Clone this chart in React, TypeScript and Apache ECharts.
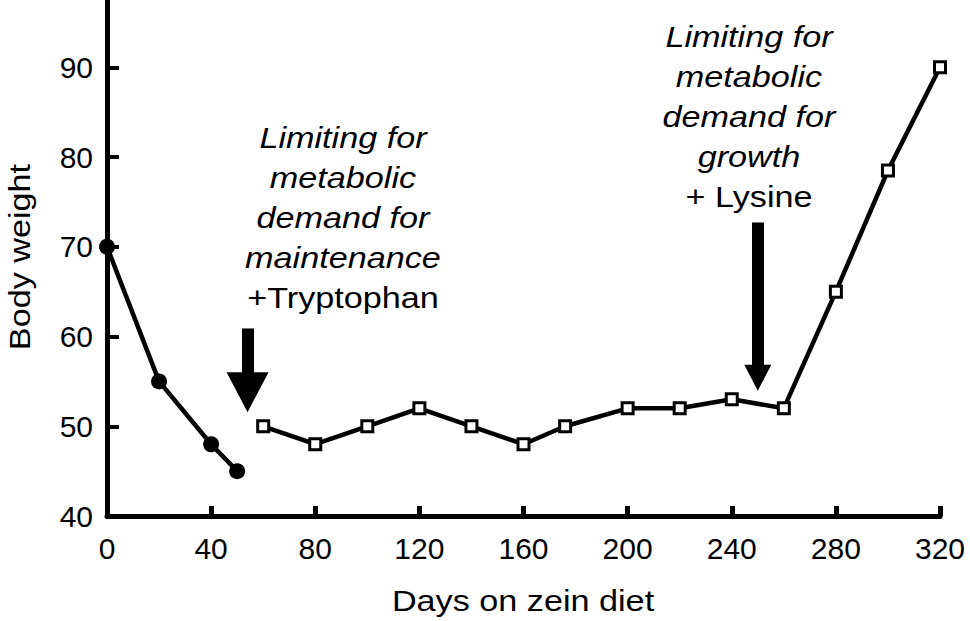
import React, { useEffect, useRef } from "react";
import * as echarts from "echarts";

// days on zein diet / body weight
const phase1Days = [0, 20, 40, 50];
const phase1Weight = [70, 55, 48, 45];
const phase2Days = [60, 80, 100, 120, 140, 160, 176, 200, 220, 240, 260, 280, 300, 320];
const phase2Weight = [50, 48, 50, 52, 50, 48, 50, 52, 52, 53, 52, 65, 78.5, 90];
const yTicks = [40, 50, 60, 70, 80, 90];

// arrows: day, shaft top weight, head centre weight
const arrowDays = [54, 250];
const arrowTop = [60.9, 72.7];
const arrowHead = [53.8, 55.4];

const noteLeft = ["Limiting for", "metabolic", "demand for", "maintenance", "+Tryptophan"];
const noteRight = ["Limiting for", "metabolic", "demand for", "growth", "+ Lysine"];

const FONT = "'Liberation Sans', Arial, Helvetica, sans-serif";
const STRETCH = 1.14;

const App: React.FC = () => {
    const chartRef = useRef<HTMLDivElement>(null);

    useEffect(() => {
        document.body.style.margin = "0";
        if (!chartRef.current) return;
        const chart = echarts.init(chartRef.current, undefined, { renderer: "svg" });

        // one text element per line, last line upright
        const note = (lines: string[], cx: number, firstY: number) =>
            lines.map((t, i) => ({
                type: "text",
                x: cx,
                y: firstY + i * 40,
                scaleX: STRETCH,
                style: {
                    text: t,
                    font: `${i === lines.length - 1 ? "" : "italic "}30px ${FONT}`,
                    fill: "#000",
                    align: "center",
                    verticalAlign: "middle",
                },
            }));

        chart.setOption({
            animation: false,
            grid: { left: 107, right: 30, top: 0, bottom: 105, outerBoundsMode: "none" },
            xAxis: {
                type: "value",
                min: 0,
                max: 320,
                interval: 40,
                axisLine: { lineStyle: { color: "#000", width: 5 } },
                axisTick: { inside: true, length: 10, lineStyle: { color: "#000", width: 5 } },
                axisLabel: { fontFamily: FONT, fontSize: 30, color: "#000", margin: 17 },
                splitLine: { show: false },
            },
            yAxis: {
                type: "value",
                min: 40,
                max: 97.5,
                axisLine: { show: true, lineStyle: { color: "#000", width: 5 } },
                axisTick: {
                    inside: true,
                    length: 12,
                    customValues: yTicks,
                    lineStyle: { color: "#000", width: 4 },
                },
                axisLabel: {
                    fontFamily: FONT,
                    fontSize: 30,
                    color: "#000",
                    margin: 14,
                    customValues: yTicks,
                },
                splitLine: { show: false },
            },
            series: [
                {
                    type: "line",
                    data: phase1Days.map((d, i) => [d, phase1Weight[i]]),
                    symbol: "circle",
                    symbolSize: 16,
                    itemStyle: { color: "#000" },
                    lineStyle: { color: "#000", width: 4.5 },
                    z: 3,
                },
                {
                    type: "line",
                    data: phase2Days.map((d, i) => [d, phase2Weight[i]]),
                    symbol: "rect",
                    symbolSize: 11,
                    showAllSymbol: true,
                    itemStyle: { color: "#fff", borderColor: "#000", borderWidth: 3 },
                    lineStyle: { color: "#000", width: 4.5 },
                    z: 3,
                    markLine: {
                        silent: true,
                        symbol: ["none", "triangle"],
                        label: { show: false },
                        lineStyle: { color: "#000", width: 12, type: "solid" },
                        data: arrowDays.map((d, i) => [
                            { coord: [d, arrowTop[i]], symbol: "none" },
                            {
                                coord: [d, arrowHead[i]],
                                symbol: "triangle",
                                symbolSize: i === 0 ? [42, 40] : [27, 26],
                            },
                        ]),
                        itemStyle: { color: "#000" },
                        z: 5,
                    },
                },
            ],
            graphic: [
                ...note(noteLeft, 343, 138),
                ...note(noteRight, 749, 37),
                {
                    type: "text",
                    x: 523,
                    y: 601,
                    scaleX: STRETCH,
                    style: {
                        text: "Days on zein diet",
                        font: `30px ${FONT}`,
                        fill: "#000",
                        align: "center",
                        verticalAlign: "middle",
                    },
                },
                {
                    type: "text",
                    x: 20,
                    y: 257,
                    rotation: Math.PI / 2,
                    scaleX: STRETCH,
                    style: {
                        text: "Body weight",
                        font: `30px ${FONT}`,
                        fill: "#000",
                        align: "center",
                        verticalAlign: "middle",
                    },
                },
            ],
        });

        const handleResize = () => chart.resize();
        window.addEventListener("resize", handleResize);
        return () => {
            window.removeEventListener("resize", handleResize);
            chart.dispose();
        };
    }, []);

    return <div ref={chartRef} style={{ width: 970, height: 621 }} />;
};

export default App;
